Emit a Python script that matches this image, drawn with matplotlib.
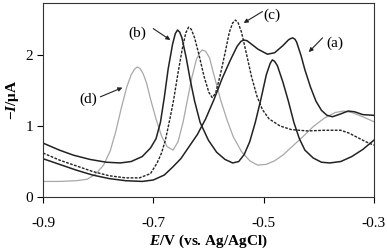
import matplotlib
matplotlib.use("Agg")
import matplotlib.pyplot as plt

plt.rcParams['font.family'] = ['Liberation Serif', 'DejaVu Serif']
plt.rcParams['mathtext.fontset'] = 'custom'
plt.rcParams['mathtext.rm'] = 'Liberation Serif'
plt.rcParams['mathtext.it'] = 'Liberation Serif:italic'
plt.rcParams['mathtext.bf'] = 'Liberation Serif:bold'
plt.rcParams['mathtext.bfit'] = 'Liberation Serif:bold:italic'

# curve (a), solid
e_a = [-0.90, -0.87, -0.84, -0.81, -0.78, -0.75, -0.72, -0.70, -0.68, -0.665,
       -0.65, -0.635, -0.62, -0.605, -0.59, -0.575, -0.56, -0.548, -0.541, -0.536,
       -0.53, -0.525, -0.51, -0.493, -0.48, -0.465, -0.455, -0.451, -0.447, -0.443,
       -0.44, -0.432, -0.425, -0.415, -0.405, -0.395, -0.385, -0.375, -0.36, -0.347,
       -0.335, -0.32, -0.30]
i_a = [0.54, 0.46, 0.38, 0.31, 0.26, 0.23, 0.22, 0.24, 0.31, 0.42,
       0.54, 0.71, 0.88, 1.10, 1.37, 1.67, 1.93, 2.12, 2.19, 2.21,
       2.20, 2.17, 2.08, 2.01, 2.03, 2.13, 2.21, 2.23, 2.24, 2.22,
       2.18, 1.99, 1.79, 1.55, 1.35, 1.22, 1.15, 1.13, 1.17, 1.21,
       1.20, 1.16, 1.15]

# curve (b), solid
e_b = [-0.90, -0.87, -0.845, -0.815, -0.785, -0.76, -0.74, -0.72, -0.705, -0.695,
       -0.687, -0.68, -0.673, -0.665, -0.66, -0.656, -0.652, -0.648, -0.64, -0.633,
       -0.625, -0.615, -0.60, -0.585, -0.57, -0.556, -0.545, -0.535, -0.525, -0.515,
       -0.505, -0.495, -0.488, -0.484, -0.48, -0.475, -0.465, -0.455, -0.445, -0.435,
       -0.425, -0.41, -0.395, -0.38, -0.36, -0.34, -0.32, -0.30]
i_b = [0.76, 0.66, 0.59, 0.53, 0.49, 0.48, 0.50, 0.57, 0.69, 0.82,
       1.05, 1.40, 1.80, 2.15, 2.30, 2.35, 2.32, 2.24, 1.95, 1.65,
       1.35, 1.05, 0.80, 0.63, 0.53, 0.48, 0.50, 0.60, 0.78, 1.05,
       1.37, 1.72, 1.88, 1.93, 1.91, 1.85, 1.62, 1.35, 1.05, 0.82,
       0.66, 0.55, 0.49, 0.48, 0.50, 0.57, 0.67, 0.80]

# curve (c), dashed
e_c = [-0.90, -0.87, -0.84, -0.81, -0.78, -0.75, -0.725, -0.705, -0.693, -0.685,
       -0.678, -0.669, -0.663, -0.655, -0.647, -0.641, -0.636, -0.631, -0.625, -0.617,
       -0.608, -0.599, -0.593, -0.587, -0.579, -0.57, -0.562, -0.556, -0.551, -0.546,
       -0.54, -0.532, -0.522, -0.512, -0.502, -0.49, -0.47, -0.45, -0.42, -0.39,
       -0.36, -0.345, -0.33, -0.315, -0.30]
i_c = [0.62, 0.52, 0.44, 0.36, 0.30, 0.27, 0.27, 0.33, 0.48, 0.62,
       0.80, 1.13, 1.37, 1.75, 2.10, 2.31, 2.39, 2.36, 2.24, 2.00,
       1.70, 1.47, 1.40, 1.46, 1.70, 2.02, 2.32, 2.45, 2.49, 2.45,
       2.32, 2.05, 1.70, 1.42, 1.23, 1.10, 1.00, 0.95, 0.93, 0.94,
       0.94, 0.90, 0.84, 0.78, 0.73]

# curve (d), grey
e_d = [-0.90, -0.87, -0.84, -0.82, -0.805, -0.79, -0.778, -0.768, -0.758, -0.748,
       -0.74, -0.734, -0.729, -0.724, -0.718, -0.712, -0.705, -0.695, -0.685, -0.675,
       -0.664, -0.655, -0.646, -0.638, -0.63, -0.622, -0.616, -0.611, -0.605, -0.598,
       -0.59, -0.578, -0.566, -0.555, -0.54, -0.525, -0.511, -0.495, -0.48, -0.465,
       -0.451, -0.43, -0.41, -0.39, -0.37, -0.355, -0.34, -0.32, -0.30]
i_d = [0.22, 0.22, 0.23, 0.25, 0.32, 0.45, 0.65, 0.92, 1.25, 1.55,
       1.72, 1.80, 1.83, 1.81, 1.73, 1.60, 1.38, 1.10, 0.86, 0.71,
       0.66, 0.78, 1.05, 1.37, 1.68, 1.93, 2.03, 2.07, 2.05, 1.96,
       1.72, 1.37, 1.08, 0.85, 0.64, 0.51, 0.45, 0.46, 0.51, 0.59,
       0.69, 0.84, 0.99, 1.11, 1.19, 1.21, 1.19, 1.13, 1.06]

labels = ["(a)", "(b)", "(c)", "(d)"]
x_ticks = [-0.9, -0.7, -0.5, -0.3]
y_ticks = [0, 1, 2]

fig = plt.figure(figsize=(3.87, 2.52), dpi=100)
ax = fig.add_axes([0.111, 0.218, 0.855, 0.770])

ax.plot(e_d, i_d, color='#a8a8a8', lw=0.9, solid_joinstyle='round')
ax.plot(e_c, i_c, color='#222222', lw=1.0, linestyle=(0, (2, 1)))
ax.plot(e_a, i_a, color='#222222', lw=1.1, solid_joinstyle='round')
ax.plot(e_b, i_b, color='#222222', lw=1.1, solid_joinstyle='round')

ax.set_xlim(-0.9, -0.3)
ax.set_ylim(0, 2.73)
ax.set_xticks(x_ticks)
ax.set_xticklabels(["-0.9", "-0.7", "-0.5", "-0.3"])
ax.set_yticks(y_ticks)
ax.tick_params(direction='out', length=4, width=0.8, labelsize=11, pad=10)
ax.tick_params(axis='y', pad=3)
for s in ax.spines.values():
    s.set_linewidth(0.8)
    s.set_color('#333333')

ax.set_xlabel(r"$\boldsymbol{E}$" + "/V (vs. Ag/AgCl)", fontsize=11, fontweight='bold', labelpad=2)
ax.set_ylabel("\u2212" + r"$\boldsymbol{I}$" + "/\u03bcA", fontsize=11, fontweight='bold', labelpad=3)

arrow = dict(arrowstyle='-|>', lw=0.8, color='#222222', mutation_scale=6, shrinkA=0, shrinkB=0)
# (a)
ax.annotate('', xy=(-0.418, 2.04), xytext=(-0.393, 2.24), arrowprops=arrow)
ax.text(-0.371, 2.17, labels[0], fontsize=11, ha='center', va='center')
# (b)
ax.annotate('', xy=(-0.669, 2.21), xytext=(-0.700, 2.37), arrowprops=arrow)
ax.text(-0.729, 2.31, labels[1], fontsize=11, ha='center', va='center')
# (c)
ax.annotate('', xy=(-0.536, 2.45), xytext=(-0.502, 2.61), arrowprops=arrow)
ax.text(-0.484, 2.56, labels[2], fontsize=11, ha='center', va='center')
# (d)
ax.annotate('', xy=(-0.756, 1.54), xytext=(-0.796, 1.41), arrowprops=arrow)
ax.text(-0.818, 1.37, labels[3], fontsize=11, ha='center', va='center')

fig.savefig("out.png", dpi=100)
